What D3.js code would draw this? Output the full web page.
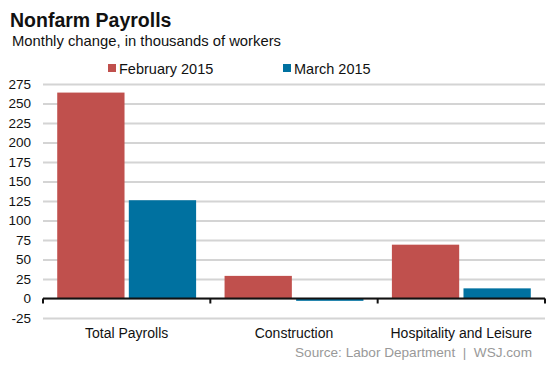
<!DOCTYPE html>
<html>
<head>
<meta charset="utf-8">
<script src="https://cdn.jsdelivr.net/npm/d3@7"></script>
<style>
  body { margin: 0; background: #fff; }
  svg { display: block; font-family: "Liberation Sans", Arial, sans-serif; }
</style>
</head>
<body>
<svg width="553" height="369"></svg>
<script>
// data
const categories = ["Total Payrolls", "Construction", "Hospitality and Leisure"];
const seriesNames = ["February 2015", "March 2015"];
const feb2015 = [264, 29, 69];
const mar2015 = [126, -3, 13];
const yTicks = [-25, 0, 25, 50, 75, 100, 125, 150, 175, 200, 225, 250, 275];
const colors = ["#c0504d", "#0071a0"];

let svg = d3.select('svg');
let margin = { left: 43, right: 8, top: 84, bottom: 51 };
let width = +svg.attr('width');
let height = +svg.attr('height');

let y = d3.scaleLinear()
    .domain([-25, 275])
    .range([height - margin.bottom, margin.top]);

let x0 = d3.scaleBand()
    .domain(categories)
    .range([margin.left, width - margin.right])
    .paddingInner(0.17)
    .paddingOuter(0.085);

let x1 = d3.scaleBand()
    .domain(seriesNames)
    .range([0, x0.bandwidth()])
    .paddingInner(0.06);

let rows = categories.map((c, i) => ({
    cat: c,
    values: [feb2015[i], mar2015[i]]
}));

// title
svg.append("text")
    .attr("x", 10).attr("y", 27)
    .attr("font-size", 19.5).attr("font-weight", "bold")
    .attr("fill", "#111")
    .text("Nonfarm Payrolls");
svg.append("text")
    .attr("x", 12).attr("y", 46)
    .attr("font-size", 14.8).attr("fill", "#111")
    .text("Monthly change, in thousands of workers");

// legend
let legendX = [108, 283];
let legend = svg.append("g")
    .selectAll("g")
    .data(seriesNames)
    .join("g")
    .attr("transform", (d, i) => `translate(${legendX[i]},64)`);
legend.append("rect")
    .attr("width", 8).attr("height", 8)
    .attr("fill", (d, i) => colors[i]);
legend.append("text")
    .attr("x", 11).attr("y", 9.5)
    .attr("font-size", 14.5).attr("fill", "#111")
    .text(d => d);

// grid lines
let yAxis = d3.axisLeft(y)
    .tickValues(yTicks)
    .tickFormat(d => String(d))
    .tickSize(-(width - margin.left - margin.right))
    .tickPadding(12);
let gy = svg.append("g")
    .attr("transform", `translate(${margin.left},0)`)
    .call(yAxis);
gy.select(".domain").remove();
gy.selectAll(".tick line")
    .attr("stroke", "#d4d4d4")
    .attr("stroke-width", 2);
gy.selectAll(".tick text")
    .attr("font-size", 13.5)
    .attr("fill", "#111")
    .attr("font-family", "Liberation Sans, Arial, sans-serif");

// bars
svg.append("g")
    .selectAll("g")
    .data(rows)
    .join("g")
    .attr("transform", d => `translate(${x0(d.cat)},0)`)
    .selectAll("rect")
    .data(d => d.values.map((v, i) => ({ key: seriesNames[i], v: v, i: i })))
    .join("rect")
    .attr("x", d => x1(d.key))
    .attr("width", x1.bandwidth())
    .attr("y", d => y(Math.max(0, d.v)))
    .attr("height", d => Math.abs(y(d.v) - y(0)))
    .attr("fill", d => colors[d.i]);

// zero line with category separators
let zero = svg.append("g");
zero.append("line")
    .attr("x1", margin.left).attr("x2", width - margin.right)
    .attr("y1", y(0)).attr("y2", y(0))
    .attr("stroke", "#111").attr("stroke-width", 2);
let seps = [0, 1, 2, 3].map(i => margin.left + i * (width - margin.left - margin.right) / 3);
zero.selectAll("line.sep")
    .data(seps)
    .join("line")
    .attr("class", "sep")
    .attr("x1", d => d).attr("x2", d => d)
    .attr("y1", y(0)).attr("y2", y(0) + 5)
    .attr("stroke", "#111").attr("stroke-width", 2);

// category labels
svg.append("g")
    .selectAll("text")
    .data(categories)
    .join("text")
    .attr("x", d => x0(d) + x0.bandwidth() / 2)
    .attr("y", 338)
    .attr("text-anchor", "middle")
    .attr("font-size", 14)
    .attr("fill", "#111")
    .text(d => d);

// source
svg.append("text")
    .attr("x", 532).attr("y", 357)
    .attr("text-anchor", "end")
    .attr("font-size", 13.6)
    .attr("fill", "#999")
    .text("Source: Labor Department  |  WSJ.com")
    .attr("xml:space", "preserve")
    .style("white-space", "pre");
</script>
</body>
</html>
